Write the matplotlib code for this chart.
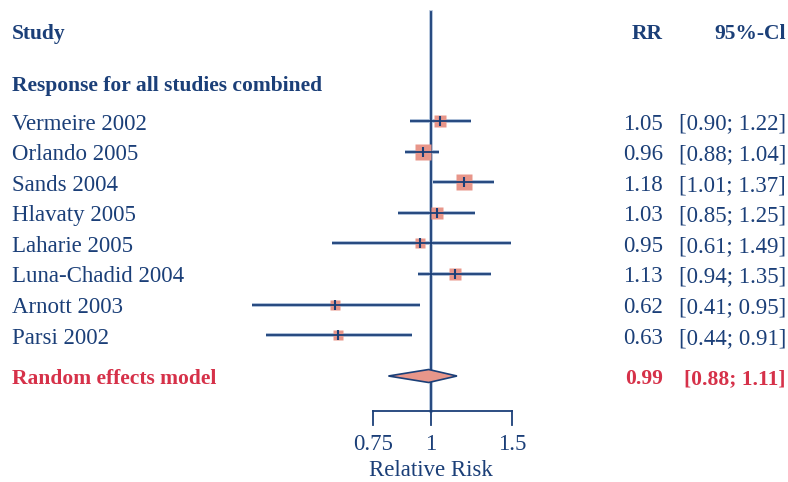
import matplotlib.pyplot as plt
import numpy as np

# data
studies = ['Vermeire 2002', 'Orlando 2005', 'Sands 2004', 'Hlavaty 2005',
           'Laharie 2005', 'Luna-Chadid 2004', 'Arnott 2003', 'Parsi 2002']
rr = [1.05, 0.96, 1.18, 1.03, 0.95, 1.13, 0.62, 0.63]
lower = [0.90, 0.88, 1.01, 0.85, 0.61, 0.94, 0.41, 0.44]
upper = [1.22, 1.04, 1.37, 1.25, 1.49, 1.35, 0.95, 0.91]
weights = [11, 14, 14, 11, 9, 11, 9, 9]  # square size in px (approx)
pooled = (0.99, 0.88, 1.11)
diamond_span = (0.81, 1.14)  # as drawn in the figure
ticks = [0.75, 1, 1.5]

navy = '#1b3f78'
halo = '#a8bbd5'
salmon = '#e8968a'
red = '#d63149'

plt.rcParams['font.family'] = ['Liberation Serif', 'DejaVu Serif']
fs = 16.5
fsb = 15.5

fig = plt.figure(figsize=(7.88, 4.82), dpi=100)
ax = fig.add_axes([0, 0, 1, 1])
ax.set_xscale('log')
# map 0.75 -> px 373, 1.5 -> px 512
k = np.log(2) / 139
ax.set_xlim(np.exp(np.log(0.75) - 373 * k), np.exp(np.log(0.75) + 415 * k))
ax.set_ylim(482, 0)
ax.axis('off')
tr = ax.get_yaxis_transform()

row_y = 121 + 30.6 * np.arange(len(studies))
pool_y = 376
axis_y = 411
dy = 3  # text sits a bit below the line

# reference line
ax.plot([1, 1], [12, axis_y], color=halo, lw=2.6, zorder=1)
ax.plot([1, 1], [12, axis_y], color=navy, lw=1.3, zorder=2)

for i in range(len(studies)):
    y = row_y[i]
    ax.plot([lower[i], upper[i]], [y, y], color=halo, lw=2.8, zorder=1, solid_capstyle='butt')
    ax.plot([lower[i], upper[i]], [y, y], color=navy, lw=1.3, zorder=3, solid_capstyle='butt')
    ax.plot(rr[i], y, marker='s', ms=weights[i] * 0.8, color=salmon, mec='none', zorder=2)
    ax.plot(rr[i], y, marker='|', ms=7, mew=1.5, color=navy, zorder=4)
    ax.text(12 / 788, y + dy, studies[i], transform=tr,
            ha='left', va='center', fontsize=fs, color=navy)
    ax.text(663 / 788, y + dy, f'{rr[i]:.2f}', transform=tr,
            ha='right', va='center', fontsize=fs, color=navy)
    ax.text(786 / 788, y + dy, f'[{lower[i]:.2f}; {upper[i]:.2f}]', transform=tr,
            ha='right', va='center', fontsize=fs, color=navy)

# diamond
est, lo, hi = pooled
ax.fill([diamond_span[0], est, diamond_span[1], est],
        [pool_y, pool_y - 6.5, pool_y, pool_y + 6.5],
        facecolor=salmon, edgecolor=navy, lw=1.2, zorder=3)
ax.text(12 / 788, pool_y + dy, 'Random effects model', transform=tr,
        ha='left', va='center', fontsize=fsb, color=red, fontweight='bold')
ax.text(663 / 788, pool_y + dy, f'{est:.2f}', transform=tr,
        ha='right', va='center', fontsize=fsb, color=red, fontweight='bold')
ax.text(786 / 788, pool_y + dy, f'[{lo:.2f}; {hi:.2f}]', transform=tr,
        ha='right', va='center', fontsize=fsb, color=red, fontweight='bold')

# headers
ax.text(12 / 788, 34, 'Study', transform=tr,
        ha='left', va='center', fontsize=fsb, color=navy, fontweight='bold')
ax.text(663 / 788, 34, 'RR', transform=tr,
        ha='right', va='center', fontsize=fsb, color=navy, fontweight='bold')
ax.text(786 / 788, 34, '95%-Cl', transform=tr,
        ha='right', va='center', fontsize=fsb, color=navy, fontweight='bold')
ax.text(12 / 788, 86, 'Response for all studies combined', transform=tr,
        ha='left', va='center', fontsize=fsb, color=navy, fontweight='bold')

# x axis
ax.plot([ticks[0], ticks[-1]], [axis_y, axis_y], color=navy, lw=1.3)
for t in ticks:
    ax.plot([t, t], [axis_y, axis_y + 14], color=navy, lw=1.3)
    ax.text(t, 445, f'{t:g}', ha='center', va='center', fontsize=fs, color=navy)
ax.text(1, 471, 'Relative Risk', ha='center', va='center', fontsize=fs, color=navy)

fig.savefig('out.png', dpi=100, facecolor='white')
